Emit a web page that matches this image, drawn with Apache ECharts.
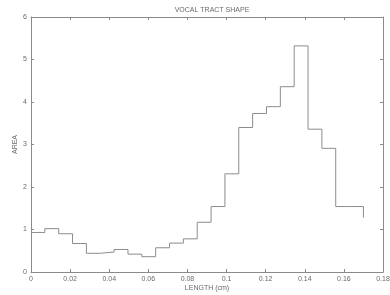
<!DOCTYPE html>
<html><head><meta charset="utf-8">
<script src="https://cdn.jsdelivr.net/npm/echarts@6/dist/echarts.min.js"></script>
<style>html,body{margin:0;padding:0;background:#fff}#c{width:390px;height:295px}</style>
</head><body><div id="c"></div>
<script>
var title = "VOCAL TRACT SHAPE";
var xName = "LENGTH (cm)";
var yName = "AREA";
var lengths = [0, 0.00708, 0.01417, 0.02125, 0.02833, 0.03542, 0.0425, 0.04958, 0.05667, 0.06375,
  0.07083, 0.07792, 0.085, 0.09208, 0.09917, 0.10625, 0.11333, 0.12042, 0.1275, 0.13458,
  0.14167, 0.14875, 0.15583, 0.16292, 0.17];
var areas = [0.93, 1.02, 0.90, 0.67, 0.44, 0.47, 0.53, 0.42, 0.36, 0.57,
  0.68, 0.78, 1.17, 1.54, 2.31, 3.40, 3.73, 3.89, 4.36, 5.32,
  3.36, 2.91, 1.54, 1.54, 1.28];

var data = lengths.map(function(x, i){ return [x, areas[i]]; });
var gray = '#8a8a8a', txt = '#6a6a6a';
var fontF = 'Liberation Sans, Arial, sans-serif';
var chart = echarts.init(document.getElementById('c'));
function fmtX(v){ return (Math.round(v*100)/100).toString(); }
chart.setOption({
  animation: false,
  title: { text: title, left: 207, top: 2, textAlign: 'center',
    textStyle: { fontSize: 7, fontWeight: 'normal', color: txt, fontFamily: fontF } },
  grid: { left: 31, right: 7, top: 17, bottom: 23, containLabel: false, outerBoundsMode: 'none' },
  xAxis: [{
    type: 'value', min: 0, max: 0.18, interval: 0.02,
    name: xName, nameLocation: 'middle', nameGap: 13, nameMoveOverlap: false,
    nameTextStyle: { fontSize: 7, color: txt, fontFamily: fontF },
    axisLine: { show: true, onZero: false, lineStyle: { color: gray, width: 1 } },
    axisTick: { show: true, inside: true, length: 3, lineStyle: { color: gray } },
    axisLabel: { fontSize: 7, color: txt, margin: 4, fontFamily: fontF, formatter: fmtX, showMaxLabel: true },
    splitLine: { show: false }
  }, {
    type: 'value', position: 'top', min: 0, max: 0.18, interval: 0.02,
    axisLine: { show: true, onZero: false, lineStyle: { color: gray, width: 1 } },
    axisTick: { show: true, inside: true, length: 3, lineStyle: { color: gray } },
    axisLabel: { show: false }, splitLine: { show: false }
  }],
  yAxis: [{
    type: 'value', min: 0, max: 6, interval: 1,
    name: yName, nameLocation: 'middle', nameGap: 12, nameRotate: 90, nameMoveOverlap: false,
    nameTextStyle: { fontSize: 7, color: txt, fontFamily: fontF },
    axisLine: { show: true, onZero: false, lineStyle: { color: gray, width: 1 } },
    axisTick: { show: true, inside: true, length: 3, lineStyle: { color: gray } },
    axisLabel: { fontSize: 7, color: txt, margin: 4, fontFamily: fontF },
    splitLine: { show: false }
  }, {
    type: 'value', position: 'right', min: 0, max: 6, interval: 1,
    axisLine: { show: true, onZero: false, lineStyle: { color: gray, width: 1 } },
    axisTick: { show: true, inside: true, length: 3, lineStyle: { color: gray } },
    axisLabel: { show: false }, splitLine: { show: false }
  }],
  series: [{
    type: 'line', step: 'end', data: data, xAxisIndex: 0, yAxisIndex: 0,
    showSymbol: false, lineStyle: { color: '#8c8c8c', width: 1 }
  }]
});
</script></body></html>
